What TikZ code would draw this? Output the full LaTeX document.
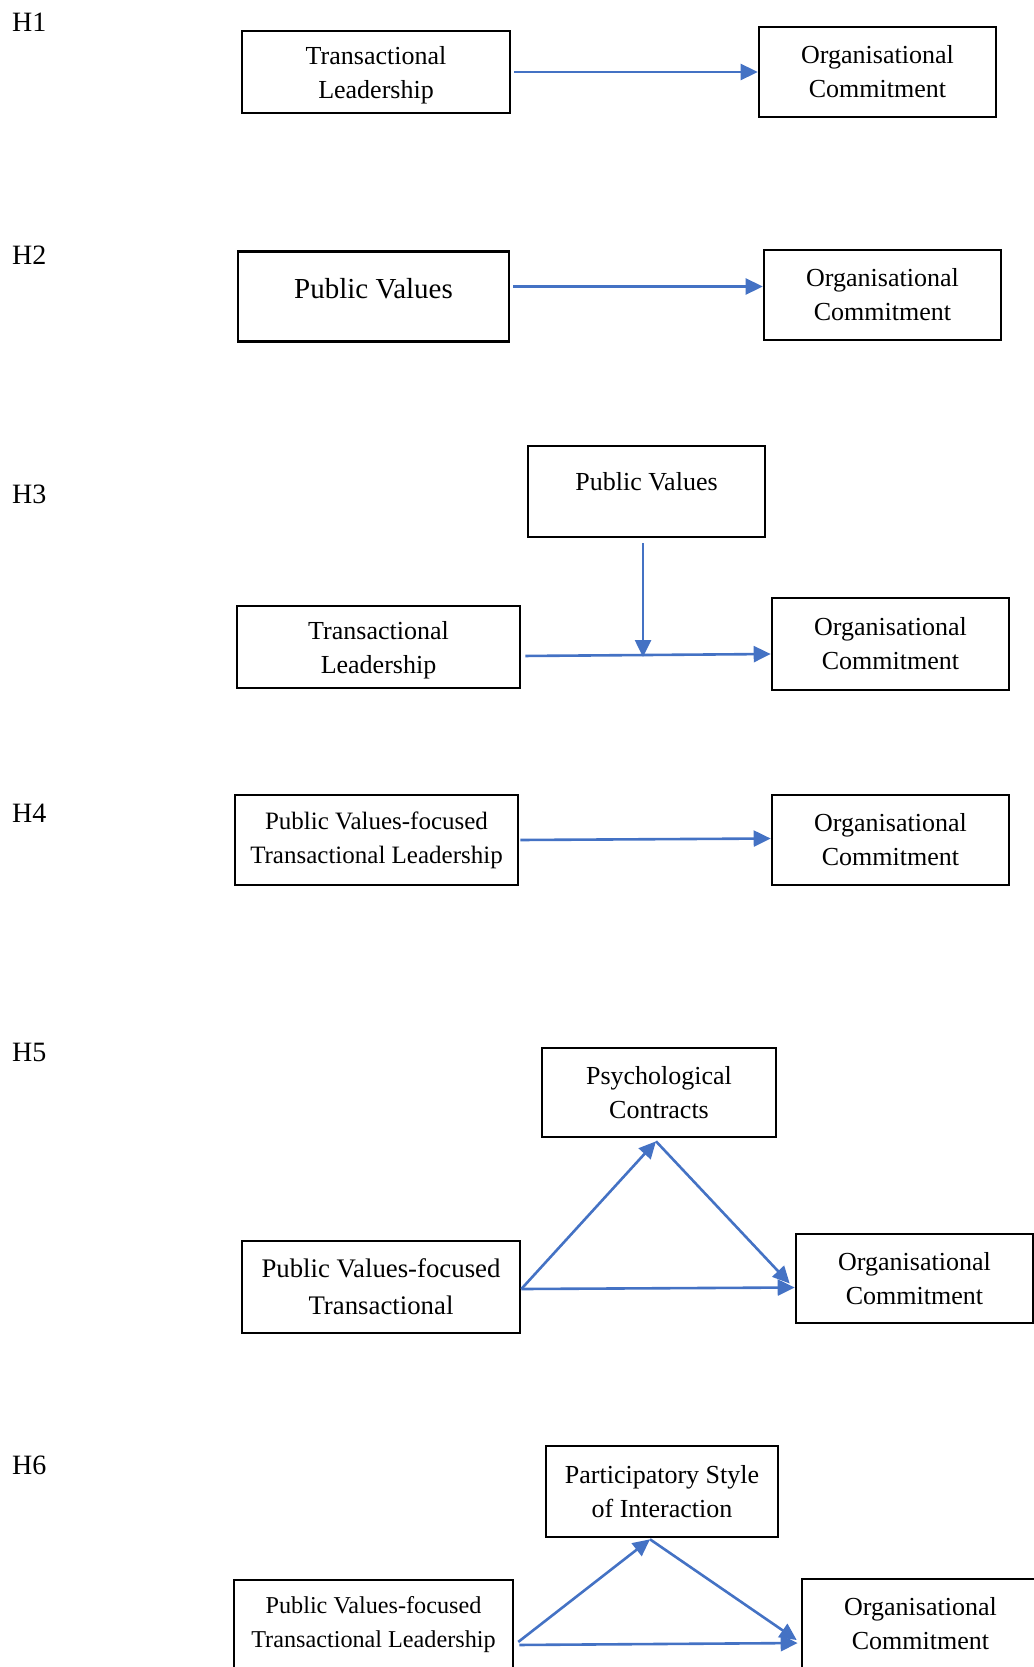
\documentclass[tikz,border=0pt]{standalone}
\usepackage{fontspec}
\setmainfont{Liberation Serif}
\usetikzlibrary{arrows.meta}
\definecolor{linkblue}{HTML}{4472C4}

\begin{document}
\begin{tikzpicture}[
  x=1pt, y=-1pt,
  hyplabel/.style={
    anchor=west,
    inner sep=0pt,
    font=\fontsize{28}{34}\selectfont
  },
  hypbox/.style={
    draw=black,
    line width=2.6pt,
    align=center,
    inner sep=0pt,
    font=\fontsize{26}{34}\selectfont,
    minimum height=90pt
  },
  flow/.style={
    draw=linkblue,
    line width=2.6pt,
    -{Triangle[length=17pt,width=16pt]}
  }
]

\useasboundingbox (0,0) rectangle (1033,1667);

% H1
\node[hyplabel] (h1) at (12,22) {H1};
\node[hypbox,minimum width=268pt,minimum height=82pt,text depth=0pt] (tl1) at (376,72) {Transactional\\Leadership};
\node[hypbox,minimum width=237pt] (oc1) at (877.5,72) {Organisational\\Commitment};
\draw[flow,shorten <=3pt] (tl1.east) -- (oc1.west);

% H2
\node[hyplabel] (h2) at (12,255) {H2};
\node[hypbox,minimum width=271pt,font=\fontsize{29}{34}\selectfont,text depth=16pt] (pv2) at (373.5,296.5) {Public Values};
\node[hypbox,minimum width=237pt] (oc2) at (882.5,295) {Organisational\\Commitment};
\draw[flow,shorten <=3pt] ([yshift=10pt]pv2.east) -- ([yshift=10pt]pv2.east -| oc2.west);

% H3
\node[hyplabel] (h3) at (12,494) {H3};
\node[hypbox,minimum width=237pt,minimum height=91pt,text depth=20pt] (pv3) at (646.5,491.5) {Public Values};
\node[hypbox,minimum width=283pt,minimum height=82pt,text depth=0pt] (tl3) at (378.5,647) {Transactional\\Leadership};
\node[hypbox,minimum width=237pt,minimum height=92pt] (oc3) at (890.5,644) {Organisational\\Commitment};
\coordinate (join3) at (643,657);
\draw[flow,shorten <=4pt] ([yshift=-9pt]tl3.east) -- ([yshift=-10pt]oc3.west);
\draw[flow,shorten <=5pt] (pv3.south -| join3) -- (join3);

% H4
\node[hyplabel] (h4) at (12,813) {H4};
\node[hypbox,minimum width=283pt,font=\fontsize{25}{34}\selectfont] (pv4) at (376.5,840) {Public Values-focused\\Transactional Leadership};
\node[hypbox,minimum width=237pt] (oc4) at (890.5,840) {Organisational\\Commitment};
\draw[flow,shorten <=1pt] (pv4.east) -- ([yshift=1.5pt]oc4.west);

% H5
\node[hyplabel] (h5) at (12,1052) {H5};
\node[hypbox,minimum width=234pt,minimum height=89pt] (pc5) at (659,1092.5) {Psychological\\Contracts};
\node[hypbox,minimum width=278pt,minimum height=92pt,font=\fontsize{26.8}{37}\selectfont] (pvt5) at (381,1287) {Public Values-focused\\Transactional};
\node[hypbox,minimum width=237pt,minimum height=89pt] (oc5) at (914.5,1278.5) {Organisational\\Commitment};
\draw[flow] ([yshift=-2pt]pvt5.east) -- ([xshift=-3pt,yshift=-3pt]pc5.south);
\draw[flow] ([xshift=-3pt,yshift=-3pt]pc5.south) -- ([xshift=-5pt,yshift=-5pt]oc5.west);
\draw[flow] ([yshift=-2pt]pvt5.east) -- ([yshift=-9pt]oc5.west);

% H6
\node[hyplabel] (h6) at (12,1465) {H6};
\node[hypbox,minimum width=232pt,minimum height=91pt] (ps6) at (662,1491.5) {Participatory Style\\of Interaction};
\node[hypbox,minimum width=279pt,font=\fontsize{24.2}{34}\selectfont] (pvl6) at (373.5,1625) {Public Values-focused\\Transactional Leadership};
\node[hypbox,minimum width=237pt] (oc6) at (920.5,1624) {Organisational\\Commitment};
\draw[flow,shorten <=5pt] ([yshift=-20pt]pvl6.east) -- ([xshift=-12pt,yshift=-1pt]ps6.south);
\draw[flow] ([xshift=-12pt,yshift=-1pt]ps6.south) -- ([xshift=-4pt,yshift=-16pt]oc6.west);
\draw[flow,shorten <=5pt,shorten >=3pt] ([yshift=-20pt]pvl6.east) -- ([yshift=-19pt]oc6.west);

\end{tikzpicture}
\end{document}
